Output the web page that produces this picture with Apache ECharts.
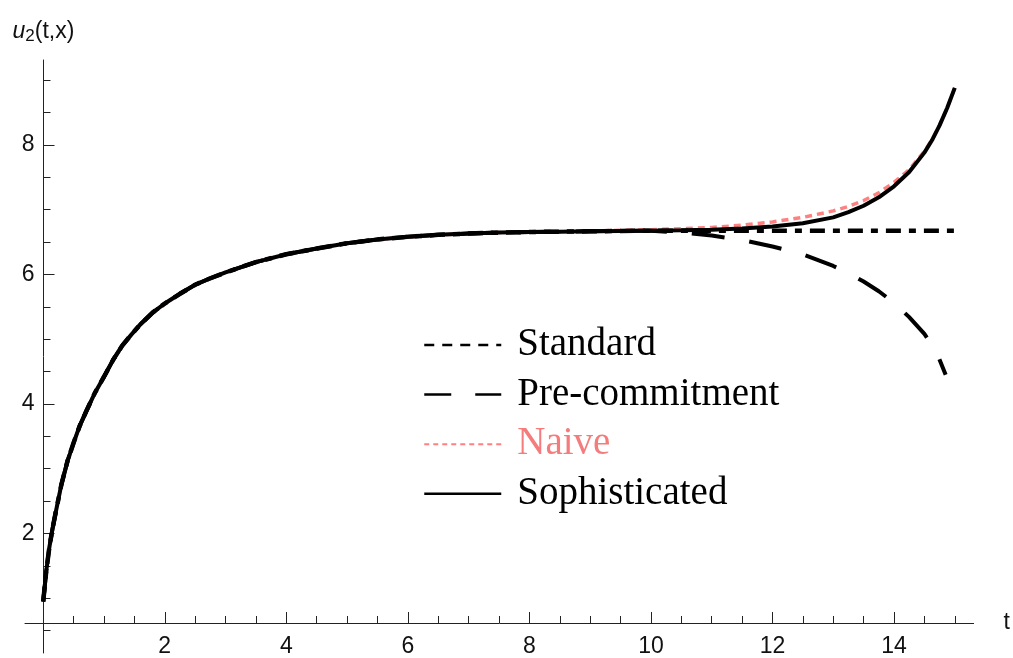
<!DOCTYPE html>
<html><head><meta charset="utf-8">
<script src="https://cdn.jsdelivr.net/npm/echarts@6/dist/echarts.min.js"></script>
<style>html,body{margin:0;padding:0;background:#fff}#c{width:1013px;height:658px}</style>
</head><body><div id="c"></div>
<script>
// shared early part of all four curves
const tCommon = [0,0.05,0.1,0.15,0.2,0.3,0.4,0.5,0.6,0.7,0.85,1,1.15,1.3,1.45,1.6,1.8,2,2.25,2.5,2.75,3,3.5,4,4.5,5,5.5,6,6.5,7,7.5,8,8.5,9,9.5,10];
const uCommon = [0.95,1.42,1.78,2.06,2.3,2.76,3.12,3.4,3.66,3.87,4.17,4.42,4.68,4.9,5.07,5.23,5.41,5.55,5.7,5.84,5.94,6.03,6.19,6.31,6.4,6.48,6.54,6.58,6.61,6.63,6.645,6.655,6.66,6.665,6.67,6.675];
// tails
const tTail = [10.5,11,11.5,12,12.5,13,13.25,13.5,13.75,14,14.25,14.5,14.625,14.75,14.875,15];
const uStandardTail = [6.675,6.675,6.675,6.675,6.675,6.675,6.675,6.675,6.675,6.675,6.675,6.675,6.675,6.675,6.675,6.675];
const uSophTail = [6.68,6.69,6.71,6.74,6.79,6.88,6.96,7.06,7.19,7.36,7.58,7.88,8.07,8.3,8.57,8.88];
const tPreTail = [10.5,11,11.5,12,12.5,13,13.25,13.5,13.75,14,14.25,14.5,14.7,14.85];
const uPreTail = [6.645,6.6,6.53,6.43,6.31,6.13,6.02,5.89,5.74,5.56,5.34,5.08,4.8,4.45];
const tNaiveTail = [9,9.5,10,10.5,11,11.5,12,12.5,13,13.25,13.5,13.75,14,14.25,14.5,14.625,14.75,14.875,15];
const uNaiveTail = [6.67,6.68,6.69,6.705,6.725,6.76,6.81,6.88,6.98,7.05,7.14,7.26,7.42,7.62,7.9,8.08,8.3,8.57,8.88];
// ticks
const xMajorTicks = [2,4,6,8,10,12,14];
const xMinorTicks = [0.5,1,1.5,2.5,3,3.5,4.5,5,5.5,6.5,7,7.5,8.5,9,9.5,10.5,11,11.5,12.5,13,13.5,14.5,15];
const yMajorTicks = [2,4,6,8];
const yMinorTicks = [0.5,1,1.5,2.5,3,3.5,4.5,5,5.5,6.5,7,7.5,8.5,9];

function pairs(ts, us){ return ts.map((t,i)=>[t,us[i]]); }
const common = pairs(tCommon,uCommon);
const standard = common.concat(pairs(tTail,uStandardTail));
const soph = common.concat(pairs(tTail,uSophTail));
const pre = common.concat(pairs(tPreTail,uPreTail));
const naive = common.filter(p=>p[0]<9).concat(pairs(tNaiveTail,uNaiveTail));

const AX = '#222';
const FONT = 'Liberation Sans';
const XMIN=-0.3, XMAX=15.31, YMIN=0.154, YMAX=9.31;

const chart = echarts.init(document.getElementById('c'), null, {renderer:'canvas'});
const lineBase = {type:'line', showSymbol:false, symbol:'none', smooth:false, emphasis:{disabled:true}, animation:false};
chart.setOption({
  animation:false,
  backgroundColor:'#fff',
  grid:{left:25, right:25, top:60, bottom:3, containLabel:false},
  xAxis:[
    {type:'value', min:XMIN, max:XMAX, position:'bottom', offset:-30,
     axisLine:{onZero:false, lineStyle:{color:AX, width:1}},
     axisTick:{inside:true, length:11, customValues:xMajorTicks, lineStyle:{color:AX}},
     axisLabel:{customValues:xMajorTicks, fontSize:23, fontFamily:FONT, color:'#111', margin:12},
     splitLine:{show:false},
     name:'t', nameLocation:'end', nameGap:30,
     nameTextStyle:{fontSize:23, fontFamily:FONT, color:'#111', verticalAlign:'middle', padding:[8,0,0,0]}},
    {type:'value', min:XMIN, max:XMAX, position:'bottom', offset:-30,
     axisLine:{show:false, onZero:false},
     axisTick:{inside:true, length:7, customValues:xMinorTicks, lineStyle:{color:AX}},
     axisLabel:{show:false}, splitLine:{show:false}}
  ],
  yAxis:[
    {type:'value', min:YMIN, max:YMAX, position:'left', offset:-18.5,
     axisLine:{onZero:false, lineStyle:{color:AX, width:1}},
     axisTick:{inside:true, length:11, customValues:yMajorTicks, lineStyle:{color:AX}},
     axisLabel:{customValues:yMajorTicks, fontSize:23, fontFamily:FONT, color:'#111', margin:9},
     splitLine:{show:false},
     name:'{u|u}{s|2}{n|(t,x)}', nameLocation:'end', nameGap:15,
     nameTextStyle:{color:'#111', fontFamily:FONT, fontSize:23,
       rich:{u:{fontSize:23, fontStyle:'italic', fontFamily:FONT, color:'#111'},
             s:{fontSize:17, fontFamily:FONT, color:'#111', padding:[10,0,0,0]},
             n:{fontSize:23, fontFamily:FONT, color:'#111'}}}},
    {type:'value', min:YMIN, max:YMAX, position:'left', offset:-18.5,
     axisLine:{show:false, onZero:false},
     axisTick:{inside:true, length:7, customValues:yMinorTicks, lineStyle:{color:AX}},
     axisLabel:{show:false}, splitLine:{show:false}}
  ],
  legend:{
    orient:'vertical', left:418, top:320, itemWidth:77, itemHeight:14, itemGap:9.6,
    selectedMode:false,
    itemStyle:{opacity:0},
    textStyle:{fontFamily:'Liberation Serif', fontSize:39, color:'#000', lineHeight:40, padding:[0,0,0,11]},
    data:[
      {name:'Standard', itemStyle:{opacity:0}, lineStyle:{type:[10,8], width:2.5, color:'#000'}},
      {name:'Pre-commitment', itemStyle:{opacity:0}, lineStyle:{type:[27,24], width:2.5, color:'#000'}},
      {name:'Naive', itemStyle:{opacity:0}, lineStyle:{type:[5,4], width:2, color:'#ff8080'}, textStyle:{color:'#f47c7c'}},
      {name:'Sophisticated', itemStyle:{opacity:0}, lineStyle:{type:'solid', width:2.5, color:'#000'}}
    ]
  },
  series:[
    Object.assign({}, lineBase, {name:'Naive', data:naive, color:'#ff8080', z:2,
      lineStyle:{color:'#ff8080', width:3.5, type:[7,5]}}),
    Object.assign({}, lineBase, {name:'Sophisticated', data:soph, color:'#000', z:3,
      lineStyle:{color:'#000', width:4}}),
    Object.assign({}, lineBase, {name:'Pre-commitment', data:pre, color:'#000', z:4,
      lineStyle:{color:'#000', width:4, type:[33,25]}}),
    Object.assign({}, lineBase, {name:'Standard', data:standard, color:'#000', z:5,
      lineStyle:{color:'#000', width:4.5, type:[15,8,7,8]}})
  ]
});
</script></body></html>
